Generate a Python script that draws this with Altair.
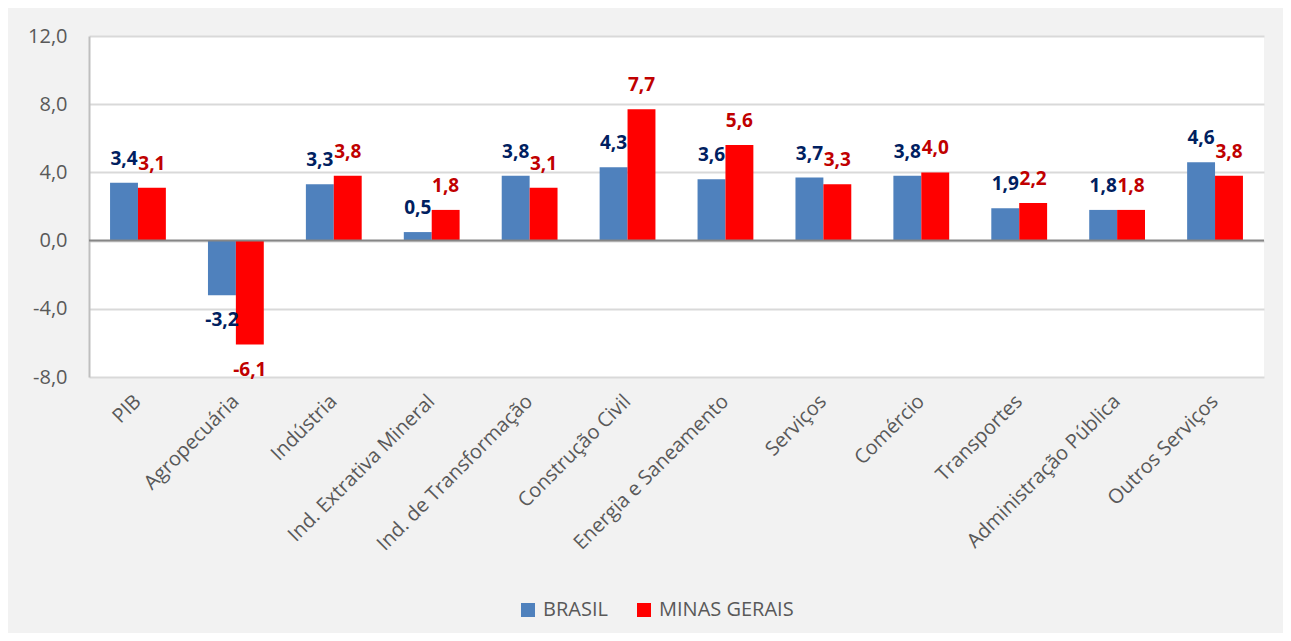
import altair as alt
import pandas as pd

categorias = ["PIB", "Agropecuária", "Indústria", "Ind. Extrativa Mineral",
              "Ind. de Transformação", "Construção Civil", "Energia e Saneamento",
              "Serviços", "Comércio", "Transportes", "Administração Pública",
              "Outros Serviços"]
brasil = [3.4, -3.2, 3.3, 0.5, 3.8, 4.3, 3.6, 3.7, 3.8, 1.9, 1.8, 4.6]
minas = [3.1, -6.1, 3.8, 1.8, 3.1, 7.7, 5.6, 3.3, 4.0, 2.2, 1.8, 3.8]
series = ["BRASIL", "MINAS GERAIS"]
cores = ["#4f81bd", "#ff0000"]
y_ticks = [-8, -4, 0, 4, 8, 12]

rows = []
for c, b, m in zip(categorias, brasil, minas):
    rows.append({"cat": c, "serie": series[0], "valor": b})
    rows.append({"cat": c, "serie": series[1], "valor": m})
df = pd.DataFrame(rows)

FONT = "Open Sans"
GRAY = "#595959"
FMT = "replace(replace(format({v}, '.1f'), '.', ','), '\u2212', '-')"

x_enc = alt.X("cat:N", sort=categorias, title=None,
              scale=alt.Scale(paddingInner=0.43, paddingOuter=0.215),
              axis=alt.Axis(labelAngle=-45, labelAlign="right", labelBaseline="middle",
                            labelPadding=21, labelFontSize=20, labelFont=FONT,
                            labelColor=GRAY, domain=False, ticks=False, grid=False,
                            labelLimit=400))
xoff = alt.XOffset("serie:N", sort=series, scale=alt.Scale(paddingInner=0, paddingOuter=0))
y_enc = alt.Y("valor:Q", title=None,
              scale=alt.Scale(domain=[-8, 12], nice=False, zero=False),
              axis=alt.Axis(values=y_ticks, labelExpr=FMT.format(v="datum.value"),
                            labelFontSize=20, labelFont=FONT, labelColor=GRAY,
                            labelPadding=22, ticks=False, domain=True,
                            domainColor="#bfbfbf", domainWidth=2,
                            grid=True, gridColor="#d9d9d9", gridWidth=2))

base = alt.Chart(df)

bars = base.mark_bar().encode(
    x=x_enc, xOffset=xoff, y=y_enc,
    color=alt.Color("serie:N", sort=series,
                    scale=alt.Scale(domain=series, range=cores),
                    legend=alt.Legend(title=None, orient="none", direction="horizontal",
                                      legendX=429, legendY=564, symbolType="square",
                                      symbolSize=196, symbolStrokeWidth=0,
                                      labelFontSize=20, labelFont=FONT, labelColor=GRAY,
                                      labelOffset=5, columnPadding=26, padding=0))
)

zero = alt.Chart(pd.DataFrame({"z": [0]})).mark_rule(color="#868686", strokeWidth=2).encode(
    y="z:Q")

label_color = alt.condition(alt.datum.serie == "BRASIL", alt.value("#002060"), alt.value("#c00000"))

txt_pos = base.transform_filter(alt.datum.valor >= 0).transform_calculate(
    lbl=FMT.format(v="datum.valor")
).mark_text(dy=-24, baseline="middle", align="center", font=FONT, fontSize=19,
            fontWeight="bold").encode(
    x=alt.X("cat:N", sort=categorias), xOffset=alt.XOffset("serie:N", sort=series),
    y="valor:Q", text="lbl:N", color=label_color)

txt_neg = base.transform_filter(alt.datum.valor < 0).transform_calculate(
    lbl=FMT.format(v="datum.valor")
).mark_text(dy=25, baseline="middle", align="center", font=FONT, fontSize=19,
            fontWeight="bold").encode(
    x=alt.X("cat:N", sort=categorias), xOffset=alt.XOffset("serie:N", sort=series),
    y="valor:Q", text="lbl:N", color=label_color)

chart = alt.layer(bars, zero, txt_pos, txt_neg).properties(
    width=1175, height=341,
    autosize=alt.AutoSizeParams(type="none"),
    padding={"left": 81, "top": 28, "right": 19, "bottom": 256},
    background="#f2f2f2",
).configure_view(fill="white", stroke=None)

chart.save("out.html", embed_options={"renderer": "svg", "actions": False})
